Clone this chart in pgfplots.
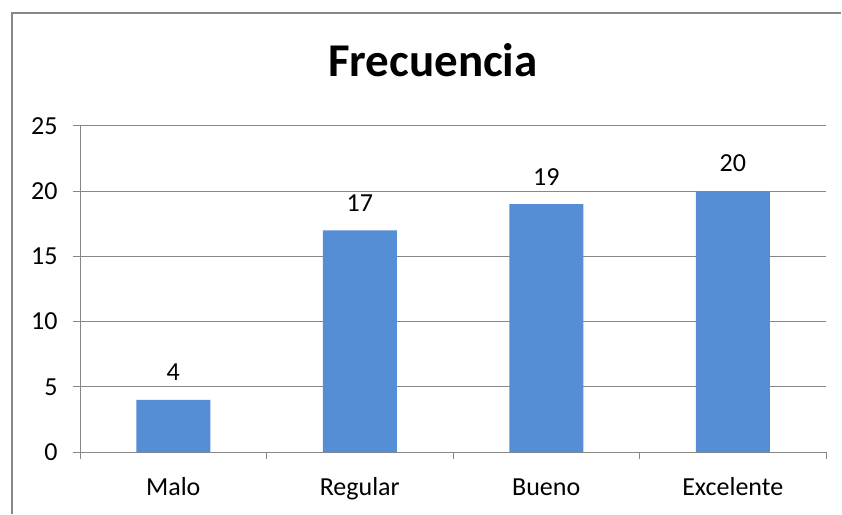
\documentclass[border=0pt]{standalone}
\usepackage{fontspec}
\setmainfont{Carlito}
\usepackage{pgfplots}
\pgfplotsset{compat=1.18}
\definecolor{barblue}{HTML}{558ED5}
\definecolor{axgray}{HTML}{878787}
\begin{document}
\begin{tikzpicture}
\useasboundingbox (0,0) rectangle (842pt,514pt);
\draw[axgray, line width=1.5pt] (12pt,0) -- (12pt,501pt) -- (841pt,501pt);
\begin{axis}[
  at={(80pt,62pt)}, anchor=south west,
  scale only axis, width=746pt, height=326pt,
  xmin=-0.5, xmax=3.5, ymin=0, ymax=25,
  ytick={0,5,...,25},
  xtick={0,1,2,3},
  xticklabels={Malo,Regular,Bueno,Excelente},
  axis x line*=bottom, axis y line*=left,
  axis line style={axgray, line width=1pt, -},
  ymajorgrids, grid style={axgray, line width=1pt},
  tick align=outside, major tick length=7pt,
  ytick style={axgray, line width=1pt},
  xtick style={draw=none},
  extra x ticks={-0.5,0.5,1.5,2.5,3.5},
  extra x tick labels={},
  extra x tick style={xtick style={draw=axgray, line width=1pt}, major tick length=7pt},
  /pgf/number format/assume math mode=true,
  tick label style={font=\fontsize{26}{30}\selectfont, text=black},
  xticklabel style={anchor=base, inner sep=0pt, yshift=-36pt},
  yticklabel style={xshift=-12pt},
  title={\textbf{Frecuencia}},
  title style={font=\fontsize{47}{52}\selectfont, at={(0.5,1)}, anchor=base, inner sep=0pt, yshift=43pt, xshift=-20pt},
  nodes near coords,
  every node near coord/.append style={font=\fontsize{26}{30}\selectfont, text=black, inner sep=0pt, yshift=19pt},
]
\addplot[ybar, bar width=74pt, fill=barblue, draw=none] coordinates {(0,4) (1,17) (2,19) (3,20)};
\end{axis}
\end{tikzpicture}
\end{document}
